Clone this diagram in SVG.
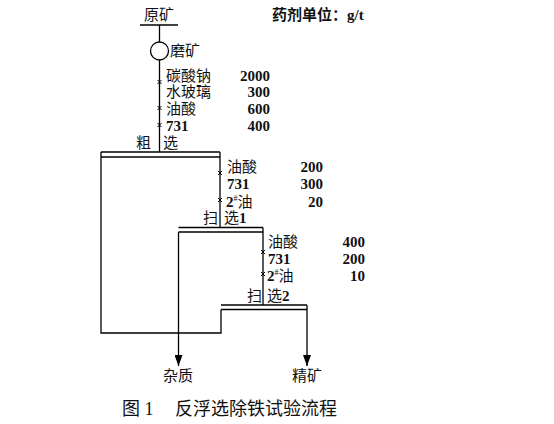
<svg xmlns="http://www.w3.org/2000/svg" width="554" height="424" viewBox="0 0 554 424">
<style>
.ln{stroke:#000;stroke-width:1.3;fill:none}
.cn{font-family:"Liberation Serif","Noto Sans CJK SC",serif;font-size:15px;fill:#111}
.nm{font-family:"Liberation Serif",serif;font-size:15px;font-weight:bold;fill:#111;text-anchor:end}
.b{font-weight:bold}
.tk{stroke:#000;stroke-width:1;fill:none}
</style>
<defs>
<marker id="ar" markerWidth="11" markerHeight="8" refX="11" refY="4" orient="auto" markerUnits="userSpaceOnUse" viewBox="0 0 11 8">
<path d="M0,0 L11,4 L0,8 Z" fill="#000"/>
</marker>
</defs>
<rect width="554" height="424" fill="#fff"/>
<g id="unit">
<text class="cn" x="272" y="20" font-weight="bold">药剂单位：g/t</text>
</g>
<g id="raw-ore">
<text class="cn" x="144" y="20">原矿</text>
<line class="ln" x1="140" y1="25" x2="178" y2="25"/>
</g>
<g id="grinding">
<circle class="ln" cx="159.5" cy="51" r="9" fill="#fff"/>
<text class="cn" x="170" y="56">磨矿</text>
</g>
<g id="reagents-rougher">
<text class="cn" x="166" y="81">碳酸钠</text><text class="nm" x="270" y="81">2000</text>
<text class="cn" x="166" y="97">水玻璃</text><text class="nm" x="270" y="97">300</text>
<text class="cn" x="166" y="114">油酸</text><text class="nm" x="270" y="114">600</text>
<text class="cn b" x="166" y="131">731</text><text class="nm" x="270" y="131">400</text>
</g>
<g id="rougher">
<text class="cn" x="136" y="148">粗</text>
<text class="cn" x="163" y="148">选</text>
<line class="ln" x1="101" y1="152" x2="220" y2="152"/>
<line class="ln" x1="101" y1="157" x2="220" y2="157"/>
<line class="ln" x1="220" y1="152" x2="220" y2="157"/>
</g>
<g id="reagents-scav1">
<text class="cn" x="227" y="172">油酸</text><text class="nm" x="323" y="172">200</text>
<text class="cn b" x="227" y="189">731</text><text class="nm" x="323" y="189">300</text>
<text class="cn" x="226" y="207"><tspan class="b">2</tspan><tspan font-size="8" dy="-6">#</tspan><tspan dy="6">油</tspan></text><text class="nm" x="323" y="207">20</text>
</g>
<g id="scavenger1">
<text class="cn" x="203" y="223">扫</text>
<text class="cn" x="224" y="223">选<tspan class="b">1</tspan></text>
<line class="ln" x1="178.5" y1="227.5" x2="263" y2="227.5"/>
<line class="ln" x1="178.5" y1="232" x2="263" y2="232"/>
</g>
<g id="reagents-scav2">
<text class="cn" x="268" y="247">油酸</text><text class="nm" x="365" y="247">400</text>
<text class="cn b" x="268" y="264">731</text><text class="nm" x="365" y="264">200</text>
<text class="cn" x="267" y="281"><tspan class="b">2</tspan><tspan font-size="8" dy="-6">#</tspan><tspan dy="6">油</tspan></text><text class="nm" x="365" y="281">10</text>
</g>
<g id="scavenger2">
<text class="cn" x="247" y="301">扫</text>
<text class="cn" x="267" y="301">选<tspan class="b">2</tspan></text>
<line class="ln" x1="221" y1="305" x2="307" y2="305"/>
<line class="ln" x1="221" y1="309.5" x2="307" y2="309.5"/>
</g>
<g id="impurity">
<text class="cn" x="163" y="381">杂质</text>
</g>
<g id="concentrate">
<text class="cn" x="292" y="381">精矿</text>
</g>
<g id="connectors">
<line class="ln" x1="159.5" y1="25" x2="159.5" y2="42"/>
<line class="ln" x1="159.5" y1="60" x2="159.5" y2="152"/>
<path class="ln" d="M101,152 V333 H221 V309.5"/>
<line class="ln" x1="220" y1="157" x2="220" y2="227.5"/>
<line class="ln" x1="178.5" y1="232" x2="178.5" y2="366" marker-end="url(#ar)"/>
<line class="ln" x1="263" y1="227.5" x2="263" y2="305"/>
<line class="ln" x1="307" y1="305" x2="307" y2="366" marker-end="url(#ar)"/>
<path class="tk" d="M157.5,80 l4,4 m0,-4 l-4,4 M157.5,106 l4,4 m0,-4 l-4,4 M157.5,123 l4,4 m0,-4 l-4,4"/>
<path class="tk" d="M218,171 l4,4 m0,-4 l-4,4 M218,198 l4,4 m0,-4 l-4,4"/>
<path class="tk" d="M261,250 l4,4 m0,-4 l-4,4 M261,272 l4,4 m0,-4 l-4,4"/>
</g>
<g id="caption">
<text x="122" y="415" font-family="'Liberation Serif','Noto Sans CJK SC',serif" font-size="18" fill="#111">图 1</text>
<text x="175" y="415" font-family="'Liberation Serif','Noto Sans CJK SC',serif" font-size="18" fill="#111">反浮选除铁试验流程</text>
</g>
</svg>
